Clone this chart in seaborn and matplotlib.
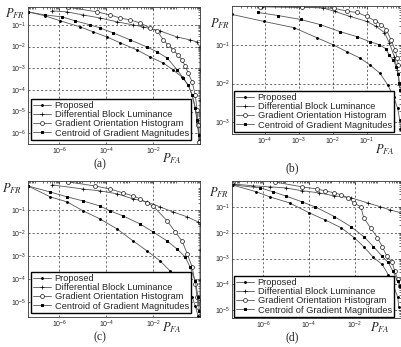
import numpy as np
import matplotlib
matplotlib.use('Agg')
import matplotlib.pyplot as plt
import seaborn as sns
from matplotlib.ticker import FixedLocator, LogFormatterMathtext, LogLocator, NullFormatter

sns.set_style('white')
plt.rcParams['font.family'] = ['Liberation Sans', 'DejaVu Sans']
plt.rcParams['mathtext.fontset'] = 'stix'

names = ['Proposed', 'Differential Block Luminance',
         'Gradient Orientation Histogram', 'Centroid of Gradient Magnitudes']

# valores, en log10 (P_FA, P_FR)
# (a)
a_prop_fa = [-7.32, -6.60, -5.96, -5.11, -4.55, -3.96, -3.40, -2.68, -2.13, -1.57, -1.15, -0.77, -0.51, -0.34, -0.21, -0.13, -0.04]
a_prop_fr = [-0.40, -0.58, -0.81, -1.09, -1.32, -1.56, -1.83, -2.16, -2.48, -2.76, -3.08, -3.41, -3.78, -4.24, -4.84, -5.49, -6.32]
a_dbl_fa = [-6.30, -5.66, -4.98, -4.26, -3.53, -2.85, -2.43, -1.70, -0.98, -0.43, -0.13, -0.01, -0.01, -0.01, -0.01, -0.01]
a_dbl_fr = [-0.35, -0.40, -0.54, -0.68, -0.86, -1.00, -1.09, -1.28, -1.56, -1.69, -1.79, -2.02, -3.08, -4.47, -5.63, -6.32]
a_goh_fa = [-5.62, -4.38, -3.83, -3.40, -2.98, -2.55, -2.13, -1.83, -1.57, -1.36, -1.15, -0.94, -0.77, -0.64, -0.51, -0.34, -0.21, -0.13, -0.09, -0.04]
a_goh_fr = [-0.18, -0.40, -0.54, -0.68, -0.77, -0.91, -1.14, -1.28, -1.69, -1.93, -2.16, -2.39, -2.62, -2.90, -3.22, -3.64, -4.24, -4.94, -5.63, -6.40]
a_cgm_fa = [-7.32, -6.60, -5.87, -5.32, -4.68, -4.26, -3.70, -2.98, -2.26, -1.83, -1.40, -0.98, -0.72, -0.51, -0.34, -0.21, -0.13, -0.04]
a_cgm_fr = [-0.40, -0.54, -0.63, -0.81, -1.00, -1.14, -1.37, -1.69, -2.02, -2.25, -2.53, -3.08, -3.45, -3.78, -4.24, -4.84, -5.40, -6.09]

# (b)
b_prop_fa = [-4.97, -4.03, -3.15, -2.47, -2.00, -1.59, -1.21, -0.91, -0.62, -0.38, -0.21, -0.09, -0.03, -0.01]
b_prop_fr = [-0.22, -0.40, -0.56, -0.82, -1.00, -1.18, -1.34, -1.52, -1.73, -2.04, -2.35, -2.64, -2.95, -3.16]
b_dbl_fa = [-4.10, -2.90, -2.30, -1.95, -1.50, -1.00, -0.72, -0.48, -0.34, -0.19, -0.10, -0.04]
b_dbl_fr = [-0.02, -0.04, -0.05, -0.14, -0.27, -0.40, -0.53, -0.69, -0.95, -1.31, -1.65, -2.04]
b_goh_fa = [-4.14, -2.91, -1.97, -1.57, -1.29, -1.00, -0.77, -0.57, -0.43, -0.29, -0.17, -0.11, -0.07]
b_goh_fr = [-0.02, -0.03, -0.06, -0.14, -0.17, -0.27, -0.38, -0.48, -0.61, -0.87, -1.13, -1.34, -1.52]
b_cgm_fa = [-4.20, -3.60, -2.95, -2.38, -1.80, -1.30, -0.92, -0.63, -0.45, -0.34, -0.22, -0.13, -0.07, -0.04, -0.01]
b_cgm_fr = [-0.17, -0.25, -0.35, -0.48, -0.66, -0.79, -0.92, -1.00, -1.10, -1.26, -1.40, -1.57, -1.75, -1.99, -2.17]

# (c)
c_prop_fa = [-7.32, -6.38, -5.66, -4.98, -4.26, -3.53, -2.85, -2.26, -1.70, -1.28, -0.85, -0.55, -0.34, -0.21, -0.09]
c_prop_fr = [0.04, -0.43, -0.65, -1.04, -1.39, -1.83, -2.35, -2.78, -3.22, -3.65, -4.09, -4.52, -4.78, -5.17, -5.60]
c_dbl_fa = [-6.30, -4.98, -4.26, -3.53, -2.85, -2.26, -1.70, -1.15, -0.55, -0.09, -0.01, -0.01, -0.01, -0.01, -0.01]
c_dbl_fr = [0.09, -0.09, -0.17, -0.30, -0.52, -0.65, -0.87, -1.09, -1.30, -1.52, -1.61, -2.74, -4.04, -4.91, -5.60]
c_goh_fa = [-5.62, -4.47, -3.83, -3.28, -2.85, -2.55, -2.26, -2.00, -1.40, -1.06, -0.77, -0.55, -0.34, -0.21, -0.13, -0.09]
c_goh_fr = [0.22, 0.04, -0.09, -0.26, -0.39, -0.52, -0.70, -0.83, -1.48, -1.96, -2.35, -2.91, -3.48, -4.22, -4.78, -5.22]
c_cgm_fa = [-7.32, -6.38, -5.66, -4.98, -4.26, -3.83, -3.28, -2.55, -2.00, -1.40, -0.98, -0.64, -0.43, -0.21, -0.09, -0.04]
c_cgm_fr = [0.04, -0.22, -0.43, -0.61, -0.83, -1.04, -1.26, -1.61, -1.96, -2.35, -2.70, -3.04, -3.48, -4.09, -4.78, -5.39]

# (d)
d_prop_fa = [-7.36, -6.30, -5.70, -4.85, -4.00, -3.32, -2.60, -2.04, -1.62, -1.19, -0.81, -0.55, -0.34, -0.13, -0.09]
d_prop_fr = [-0.15, -0.42, -0.62, -0.85, -1.23, -1.50, -1.81, -2.19, -2.54, -2.96, -3.23, -3.62, -4.00, -4.50, -4.88]
d_dbl_fa = [-7.28, -6.43, -5.70, -5.02, -4.30, -3.57, -2.89, -2.17, -1.45, -0.89, -0.47, -0.01]
d_dbl_fr = [-0.12, -0.19, -0.23, -0.27, -0.38, -0.46, -0.58, -0.65, -0.85, -1.00, -1.12, -1.23]
d_goh_fa = [-5.49, -4.30, -3.66, -3.32, -2.89, -2.60, -2.30, -2.04, -1.74, -1.62, -1.32, -1.02, -0.81, -0.60, -0.38, -0.26, -0.13, -0.02]
d_goh_fr = [-0.04, -0.23, -0.31, -0.38, -0.46, -0.54, -0.65, -0.85, -1.00, -1.42, -1.81, -2.19, -2.54, -2.92, -3.15, -3.50, -3.81, -4.08]
d_cgm_fa = [-7.36, -6.13, -5.57, -5.02, -4.30, -3.74, -2.89, -2.17, -1.62, -1.19, -0.81, -0.55, -0.34, -0.13, -0.02]
d_cgm_fr = [-0.15, -0.27, -0.42, -0.58, -0.81, -1.00, -1.38, -1.77, -2.15, -2.54, -2.92, -3.15, -3.50, -3.88, -4.08]

estilos = {
    'Proposed': dict(marker='.', markersize=2.6, markerfacecolor='black'),
    'Differential Block Luminance': dict(marker='+', markersize=3, markeredgewidth=0.5),
    'Gradient Orientation Histogram': dict(marker='o', markersize=2.8, markerfacecolor='white', markeredgewidth=0.45),
    'Centroid of Gradient Magnitudes': dict(marker='s', markersize=1.5, markerfacecolor='black'),
}

paneles = [
    dict(rect=[0.070, 0.585, 0.428, 0.395], xlim=(-7.32, 0), ylim=(-6.5, -0.17),
         xt=[-6, -4, -2], yt=[-1, -2, -3, -4, -5, -6],
         series=[(a_prop_fa, a_prop_fr), (a_dbl_fa, a_dbl_fr), (a_goh_fa, a_goh_fr), (a_cgm_fa, a_cgm_fr)],
         leg=(31, 140), pfr=(15, 14), pfa=(172, 159), cap=(100, 164), cap_txt='(a)'),
    dict(rect=[0.577, 0.614, 0.420, 0.369], xlim=(-4.97, 0), ylim=(-3.3, 0),
         xt=[-4, -3, -2, -1], yt=[-1, -2, -3],
         series=[(b_prop_fa, b_prop_fr), (b_dbl_fa, b_dbl_fr), (b_goh_fa, b_goh_fr), (b_cgm_fa, b_cgm_fr)],
         leg=(234, 132), pfr=(220, 24), pfa=(385, 150), cap=(292, 168), cap_txt='(b)'),
    dict(rect=[0.070, 0.0865, 0.428, 0.392], xlim=(-7.32, 0), ylim=(-5.65, 0.26),
         xt=[-6, -4, -2], yt=[-1, -2, -3, -4, -5],
         series=[(c_prop_fa, c_prop_fr), (c_dbl_fa, c_dbl_fr), (c_goh_fa, c_goh_fr), (c_cgm_fa, c_cgm_fr)],
         leg=(31, 313), pfr=(12, 189), pfa=(172, 328), cap=(100, 337), cap_txt='(c)'),
    dict(rect=[0.577, 0.0836, 0.420, 0.395], xlim=(-7.36, 0), ylim=(-5.3, 0),
         xt=[-6, -4, -2], yt=[-1, -2, -3, -4, -5],
         series=[(d_prop_fa, d_prop_fr), (d_dbl_fa, d_dbl_fr), (d_goh_fa, d_goh_fr), (d_cgm_fa, d_cgm_fr)],
         leg=(234, 317), pfr=(219, 193), pfa=(380, 328), cap=(292, 337), cap_txt='(d)'),
]

W, H = 402, 347
fig = plt.figure(figsize=(W / 100, H / 100), dpi=100)

for p in paneles:
    ax = fig.add_axes(p['rect'])
    for nombre, (fa, fr) in zip(names, p['series']):
        sns.lineplot(x=10.0 ** np.array(fa), y=10.0 ** np.array(fr), ax=ax,
                     estimator=None, sort=False, color='#555555', linewidth=0.6,
                     markeredgecolor='black', label=nombre, legend=False, **estilos[nombre])
    ax.set_xscale('log')
    ax.set_yscale('log')
    ax.set_xlim(10.0 ** p['xlim'][0], 10.0 ** p['xlim'][1])
    ax.set_ylim(10.0 ** p['ylim'][0], 10.0 ** p['ylim'][1])
    ax.xaxis.set_major_locator(FixedLocator([10.0 ** e for e in p['xt']]))
    ax.yaxis.set_major_locator(FixedLocator([10.0 ** e for e in p['yt']]))
    ax.xaxis.set_major_formatter(LogFormatterMathtext())
    ax.yaxis.set_major_formatter(LogFormatterMathtext())
    ax.xaxis.set_minor_locator(LogLocator(base=10, subs=np.arange(2, 10), numticks=50))
    ax.yaxis.set_minor_locator(LogLocator(base=10, subs=np.arange(2, 10), numticks=50))
    ax.xaxis.set_minor_formatter(NullFormatter())
    ax.yaxis.set_minor_formatter(NullFormatter())
    ax.set_xlabel('')
    ax.set_ylabel('')
    ax.tick_params(which='both', direction='in', top=True, right=True, labelsize=5, pad=1.5,
                   color='#333333', width=0.5)
    ax.tick_params(which='major', length=2.5)
    ax.tick_params(which='minor', length=1.2)
    ax.grid(True, which='major', linestyle=(0, (3, 3)), color='#333333', linewidth=0.5)
    for s in ax.spines.values():
        s.set_linewidth(0.6)
        s.set_color('#333333')
    lx, ly = p['leg']
    ax.legend(loc='lower left', bbox_to_anchor=(lx / W, 1 - ly / H), bbox_transform=fig.transFigure,
              fontsize=6.7, frameon=True, fancybox=False, edgecolor='black', framealpha=1,
              borderpad=0.25, labelspacing=0.02, handlelength=1.9, handletextpad=0.4, borderaxespad=0)
    fig.text(p['pfr'][0] / W, 1 - p['pfr'][1] / H, r'$P_{FR}$', fontsize=9, ha='center', va='center')
    fig.text(p['pfa'][0] / W, 1 - p['pfa'][1] / H, r'$P_{FA}$', fontsize=9, ha='center', va='center')
    fig.text(p['cap'][0] / W, 1 - p['cap'][1] / H, p['cap_txt'], fontsize=8.5, ha='center', va='center',
             family=['Liberation Serif', 'DejaVu Serif'])

fig.savefig('out.png', dpi=100)
